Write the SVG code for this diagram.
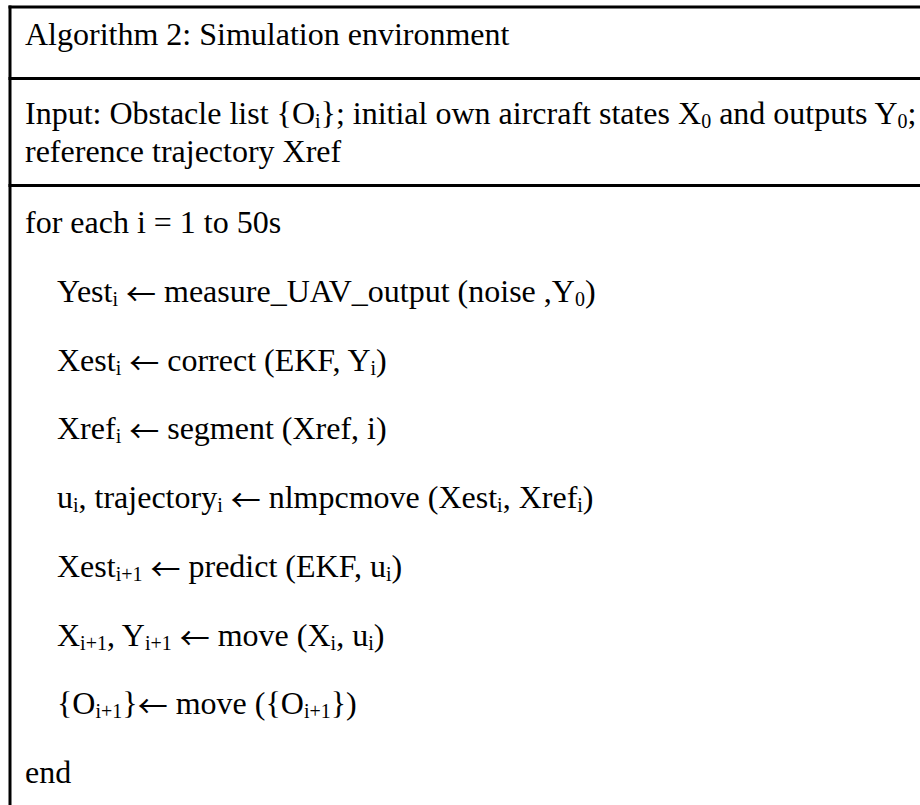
<svg xmlns="http://www.w3.org/2000/svg" width="920" height="805" viewBox="0 0 920 805">
  <style>
    .rule { stroke: #000; stroke-width: 3; fill: none; }
    .t { font-family: "Liberation Serif", "Times New Roman", serif; font-size: 32px; fill: #000; }
    .sub { font-size: 20px; }
    .arr { font-family: "Noto Sans CJK SC", "DejaVu Sans", sans-serif; font-size: 30px; }
  </style>
  <rect x="0" y="0" width="920" height="805" fill="#fff"/>

  <!-- table frame: left edge and row separators (no right or bottom edge) -->
  <g id="frame">
    <line class="rule" x1="10" y1="5.5" x2="10" y2="805"/>
    <line class="rule" x1="8.5" y1="7" x2="920" y2="7"/>
    <line class="rule" x1="8.5" y1="78.5" x2="920" y2="78.5"/>
    <line class="rule" x1="8.5" y1="185.5" x2="920" y2="185.5"/>
  </g>

  <g id="title">
    <text class="t" x="25" y="45">Algorithm 2: Simulation environment</text>
  </g>

  <g id="input">
    <text class="t" x="25" y="124">Input: Obstacle list {O<tspan class="sub" dy="4">i</tspan><tspan dy="-4">}; initial own aircraft states X</tspan><tspan class="sub" dy="4">0</tspan><tspan dy="-4"> and outputs Y</tspan><tspan class="sub" dy="4">0</tspan><tspan dy="-4">;</tspan></text>
    <text class="t" x="25" y="162">reference trajectory Xref</text>
  </g>

  <!-- loop body; arrows use a wide thin glyph, nudged down to sit at x-height -->
  <g id="body">
    <text class="t" x="25" y="233">for each i = 1 to 50s</text>
    <text class="t" x="57" y="302">Yest<tspan class="sub" dy="4">i</tspan><tspan dy="-4"> </tspan><tspan class="arr" dy="3">←</tspan><tspan dy="-3"> measure_UAV_output (noise ,Y</tspan><tspan class="sub" dy="4">0</tspan><tspan dy="-4">)</tspan></text>
    <text class="t" x="57" y="371">Xest<tspan class="sub" dy="4">i</tspan><tspan dy="-4"> </tspan><tspan class="arr" dy="3">←</tspan><tspan dy="-3"> correct (EKF, Y</tspan><tspan class="sub" dy="4">i</tspan><tspan dy="-4">)</tspan></text>
    <text class="t" x="57" y="439">Xref<tspan class="sub" dy="4">i</tspan><tspan dy="-4"> </tspan><tspan class="arr" dy="3">←</tspan><tspan dy="-3"> segment (Xref, i)</tspan></text>
    <text class="t" x="57" y="508">u<tspan class="sub" dy="4">i</tspan><tspan dy="-4">, trajectory</tspan><tspan class="sub" dy="4">i</tspan><tspan dy="-4"> </tspan><tspan class="arr" dy="3">←</tspan><tspan dy="-3"> nlmpcmove (Xest</tspan><tspan class="sub" dy="4">i</tspan><tspan dy="-4">, Xref</tspan><tspan class="sub" dy="4">i</tspan><tspan dy="-4">)</tspan></text>
    <text class="t" x="57" y="577">Xest<tspan class="sub" dy="4">i+1</tspan><tspan dy="-4"> </tspan><tspan class="arr" dy="3">←</tspan><tspan dy="-3"> predict (EKF, u</tspan><tspan class="sub" dy="4">i</tspan><tspan dy="-4">)</tspan></text>
    <text class="t" x="57" y="646">X<tspan class="sub" dy="4">i+1</tspan><tspan dy="-4">, Y</tspan><tspan class="sub" dy="4">i+1</tspan><tspan dy="-4"> </tspan><tspan class="arr" dy="3">←</tspan><tspan dy="-3"> move (X</tspan><tspan class="sub" dy="4">i</tspan><tspan dy="-4">, u</tspan><tspan class="sub" dy="4">i</tspan><tspan dy="-4">)</tspan></text>
    <text class="t" x="57" y="714">{O<tspan class="sub" dy="4">i+1</tspan><tspan dy="-4">}</tspan><tspan class="arr" dy="3">←</tspan><tspan dy="-3"> move ({O</tspan><tspan class="sub" dy="4">i+1</tspan><tspan dy="-4">})</tspan></text>
    <text class="t" x="25" y="783">end</text>
  </g>
</svg>
